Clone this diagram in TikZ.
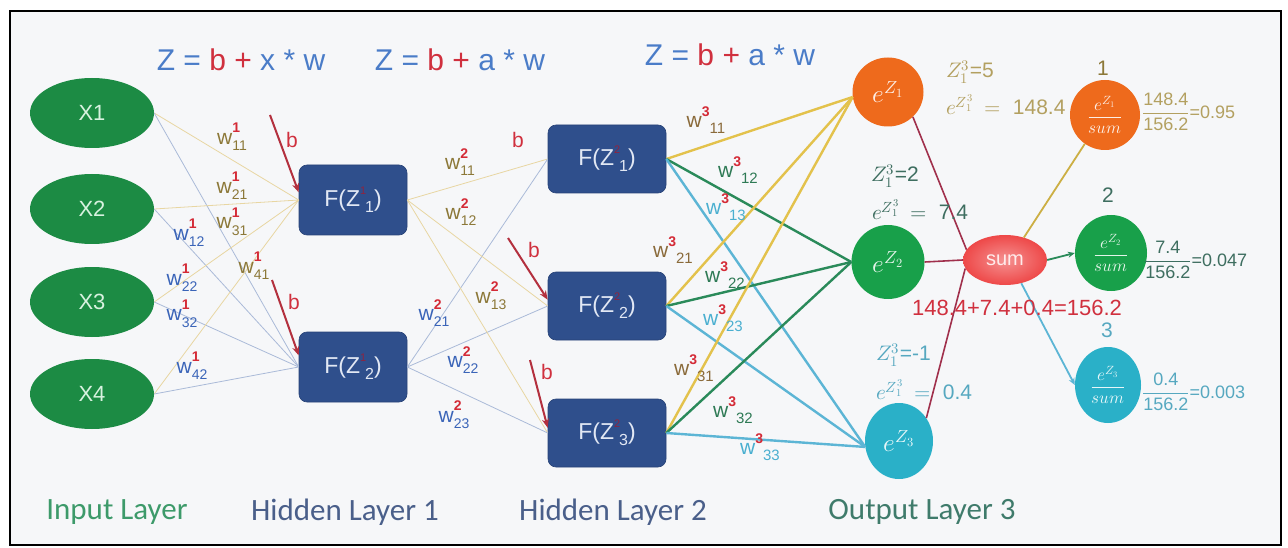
\documentclass[tikz,border=0pt]{standalone}
\usepackage{fontspec}
\usepackage{unicode-math}
\setmainfont{Liberation Sans}
\newfontfamily\carl{Carlito}
\usetikzlibrary{shapes.geometric,arrows.meta}
\definecolor{bgc}{HTML}{F6F7F9}
\definecolor{ingreen}{HTML}{1C8B44}
\definecolor{intext}{HTML}{D8F2E0}
\definecolor{boxblue}{HTML}{2F4F8C}
\definecolor{boxtext}{HTML}{E2E8F4}
\definecolor{fblue}{HTML}{4A7CC8}
\definecolor{fred}{HTML}{D0303E}
\definecolor{supred}{HTML}{D42A36}
\definecolor{darkred}{HTML}{8E2440}
\definecolor{olive}{HTML}{8C7838}
\definecolor{wblue}{HTML}{3A64B8}
\definecolor{brown3}{HTML}{8A6A3A}
\definecolor{green3}{HTML}{2E7A55}
\definecolor{teal3}{HTML}{4AAFD0}
\definecolor{edgegold}{HTML}{E8D6A2}
\definecolor{edgeblue}{HTML}{AABAD8}
\definecolor{gold3}{HTML}{E3C24C}
\definecolor{lgreen3}{HTML}{2A8A5A}
\definecolor{lteal3}{HTML}{5CB5D5}
\definecolor{biasc}{HTML}{B3303E}
\definecolor{orangec}{HTML}{EE6A1C}
\definecolor{greenc}{HTML}{18A04A}
\definecolor{tealc}{HTML}{2AB0C8}
\definecolor{sumc}{HTML}{EE4848}
\definecolor{sumline}{HTML}{A0304C}
\definecolor{anngold}{HTML}{B3A060}
\definecolor{anngreen}{HTML}{3E6E60}
\definecolor{annteal}{HTML}{56A8C0}
\definecolor{layergreen}{HTML}{3D9A6A}
\definecolor{layerblue}{HTML}{4A5F8A}
\definecolor{layerout}{HTML}{3F7B6B}
\newcommand{\wlab}[3]{\textcolor{#1}{w}\rlap{\raisebox{1.0ex}{\textcolor{supred}{\fontsize{14}{14}\selectfont\bfseries #2}}}\raisebox{-0.6ex}{\textcolor{#1}{\fontsize{14}{14}\selectfont #3}}}
\newcommand{\wlabb}[3]{\textcolor{#1}{w}\raisebox{1.0ex}{\textcolor{supred}{\fontsize{14}{14}\selectfont\bfseries #2}}\raisebox{-0.5ex}{\textcolor{#1}{\fontsize{15}{15}\selectfont #3}}}
\newcommand{\fz}[2]{F(Z\rlap{\raisebox{1.0ex}{\textcolor{darkred}{\fontsize{11}{11}\selectfont #1}}}\hspace{5pt}\raisebox{-0.5ex}{\fontsize{16}{16}\selectfont #2})}
\newcommand{\fr}[3]{$\displaystyle\frac{\mbox{#1}}{\mbox{#2}}$#3}
\newcommand{\sm}[1]{$\displaystyle\frac{e^{Z_{#1}}}{sum}$}
\newcommand{\ez}[1]{$e^{Z_1^3}\;=\;\mbox{#1}$}
\begin{document}
\begin{tikzpicture}[x=1pt,y=-1pt,
  inp/.style={ellipse, fill=ingreen, minimum width=124pt, minimum height=70pt, inner sep=0pt, text=intext, font=\fontsize{22}{24}\selectfont},
  hbox/.style={rectangle, rounded corners=8pt, fill=boxblue, draw=boxblue!85!black, line width=0.6pt, minimum width=#1, minimum height=70pt, inner sep=0pt, text=boxtext, font=\fontsize{23}{26}\selectfont},
  outn/.style={ellipse, fill=#1, minimum width=71pt, minimum height=71pt, inner sep=0pt, text=white!88!#1, font=\fontsize{25}{26}\selectfont},
  formula/.style={font=\fontsize{30}{32}\selectfont, inner sep=0pt},
  wl/.style={font=\fontsize{21}{22}\selectfont, inner sep=0pt},
  blab/.style={font=\fontsize{21}{22}\selectfont, text=fred, inner sep=0pt},
  ann/.style={font=\fontsize{21}{23}\selectfont, inner sep=0pt},
  layer/.style={font=\carl\fontsize{31}{33}\selectfont, inner sep=0pt},
  e1/.style={line width=0.8pt},
  e3/.style={line width=2.4pt},
  bias/.style={line width=2pt, draw=biasc, -{Stealth[length=9pt,width=7pt]}},
  sl/.style={line width=1.6pt, draw=sumline}
]
\useasboundingbox (0,0) rectangle (1288,548);
\fill[white] (0,0) rectangle (1288,548);
\draw[line width=2.5pt, fill=bgc] (10,11) rectangle (1281,545);

% formulas
\node[formula] (f1) at (241,60) {\textcolor{fblue}{Z} \textcolor{fblue}{=} \textcolor{fred}{b} \textcolor{fred}{+} \textcolor{fblue}{x * w}};
\node[formula] (f2) at (460,60) {\textcolor{fblue}{Z} \textcolor{fblue}{=} \textcolor{fred}{b} \textcolor{fred}{+} \textcolor{fblue}{a * w}};
\node[formula] (f3) at (730,55) {\textcolor{fblue}{Z} \textcolor{fblue}{=} \textcolor{fred}{b} \textcolor{fred}{+} \textcolor{fblue}{a * w}};

% nodes
\node[inp] (X1) at (92,113) {X1};
\node[inp] (X2) at (92,209) {X2};
\node[inp] (X3) at (92,302) {X3};
\node[inp] (X4) at (92,394) {X4};
\node[hbox=108pt] (H11) at (353,200) {\fz{1}{1}};
\node[hbox=108pt] (H12) at (353,367) {\fz{1}{2}};
\node[hbox=118pt, minimum height=68pt] (H21) at (607,159) {\fz{2}{1}};
\node[hbox=118pt, minimum height=68pt] (H22) at (607,306) {\fz{2}{2}};
\node[hbox=118pt, minimum height=68pt] (H23) at (607,433) {\fz{2}{3}};
\node[outn=orangec, minimum height=69pt] (O1) at (888,92) {$e^{Z_1}$};
\node[outn=greenc, minimum width=73pt, minimum height=74pt] (O2) at (888,262) {$e^{Z_2}$};
\node[outn=tealc, minimum width=68pt, minimum height=76pt] (O3) at (899,441) {$e^{Z_3}$};
\node[ellipse, inner sep=0pt, minimum width=84pt, minimum height=50pt, shading=radial, inner color=sumc!60!white, outer color=sumc, text=white!92!red, font=\fontsize{20}{22}\selectfont] (S) at (1005,260) {sum};
\node[outn=orangec, minimum width=70pt, minimum height=70pt, font=\fontsize{17}{18}\selectfont] (P1) at (1105,115) {\sm{1}};
\node[outn=greenc, minimum width=72pt, minimum height=76pt, font=\fontsize{17}{18}\selectfont] (P2) at (1111,253) {\sm{2}};
\node[outn=tealc, minimum width=66pt, minimum height=76pt, font=\fontsize{17}{18}\selectfont] (P3) at (1108,385) {\sm{3}};

% layer 1 edges
\foreach \i in {1,2,3,4}{
  \draw[e1, edgegold] (X\i.east) -- (H11.west);
  \draw[e1, edgeblue] (X\i.east) -- (H12.west);
}
% layer 2 edges
\foreach \j in {1,2,3}{
  \draw[e1, edgegold] (H11.east) -- (H2\j.west);
  \draw[e1, edgeblue] (H12.east) -- (H2\j.west);
}
% layer 3 edges
\foreach \j in {1,2,3}{
  \draw[e3, gold3] (H2\j.east) -- (O1.188);
  \draw[e3, lgreen3] (H2\j.east) -- (O2.west);
  \draw[e3, lteal3] (H2\j.east) -- (O3.190);
}
% output to sum
\draw[sl] (O1.-45) -- (S.165);
\draw[sl] (O2.east) -- (S.west);
\draw[sl] (O3.40) -- (S.192);
% sum to softmax
\draw[line width=1.8pt, gold3!90!black] (S.50) -- (P1.235);
\draw[line width=1.8pt, lgreen3, -{Stealth[length=7pt,width=6pt]}] (S.east) -- (P2.west);
\draw[line width=1.8pt, lteal3, -{Stealth[length=7pt,width=6pt]}] (S.-55) -- (P3.west);

% bias arrows
\coordinate (b11) at (270,115);
\coordinate (b12) at (272,280);
\coordinate (b22) at (508,238);
\coordinate (b23) at (530,360);
\draw[bias] (b11) -- (H11.172);
\draw[bias] (b12) -- (H12.168);
\draw[bias] (b22) -- (H22.174);
\draw[bias] (b23) -- (H23.175);
\node[blab] (lb11) at (292,140) {b};
\node[blab] (lb12) at (294,302) {b};
\node[blab] (lb21) at (518,140) {b};
\node[blab] (lb22) at (534,250) {b};
\node[blab] (lb23) at (547,372) {b};

% layer 1 weights
\node[wl] (w111) at (232,137) {\wlab{olive}{1}{11}};
\node[wl] (w121) at (232,186) {\wlab{olive}{1}{21}};
\node[wl] (w131) at (232,222) {\wlab{olive}{1}{31}};
\node[wl] (w141) at (254,266) {\wlab{olive}{1}{41}};
\node[wl] (w112) at (189,233) {\wlab{wblue}{1}{12}};
\node[wl] (w122) at (182,278) {\wlab{wblue}{1}{22}};
\node[wl] (w132) at (182,314) {\wlab{wblue}{1}{32}};
\node[wl] (w142) at (192,366) {\wlab{wblue}{1}{42}};
% layer 2 weights
\node[wl] (w211) at (460,162) {\wlab{olive}{2}{11}};
\node[wl] (w212) at (461,212) {\wlab{olive}{2}{12}};
\node[wl] (w213) at (491,296) {\wlab{olive}{2}{13}};
\node[wl] (w221) at (434,313) {\wlab{wblue}{2}{21}};
\node[wl] (w222) at (463,360) {\wlab{wblue}{2}{22}};
\node[wl] (w223) at (454,415) {\wlab{wblue}{2}{23}};
% layer 3 weights
\node[wl] (w311) at (706,120) {\wlabb{brown3}{3}{11}};
\node[wl] (w312) at (738,170) {\wlabb{green3}{3}{12}};
\node[wl] (w313) at (726,207) {\wlabb{teal3}{3}{13}};
\node[wl] (w321) at (673,250) {\wlabb{brown3}{3}{21}};
\node[wl] (w322) at (725,275) {\wlabb{green3}{3}{22}};
\node[wl] (w323) at (723,318) {\wlabb{teal3}{3}{23}};
\node[wl] (w331) at (694,368) {\wlabb{brown3}{3}{31}};
\node[wl] (w332) at (733,410) {\wlabb{green3}{3}{32}};
\node[wl] (w333) at (760,447) {\wlabb{teal3}{3}{33}};

% annotations
\node[ann, text=anngold, anchor=west] (a1) at (946,72) {$Z_1^3$=5};
\node[ann, text=anngold, anchor=west] (a2) at (946,105) {\ez{148.4}};
\node[ann, text=anngreen, anchor=west] (a3) at (871,176) {$Z_1^3$=2};
\node[ann, text=anngreen, anchor=west] (a4) at (872,210) {\ez{7.4}};
\node[ann, text=annteal, anchor=west] (a5) at (876,355) {$Z_1^3$=-1};
\node[ann, text=annteal, anchor=west] (a6) at (876,390) {\ez{0.4}};
\node[font=\fontsize{22}{23}\selectfont, text=fred, inner sep=0pt] (sumtxt) at (1017,308) {148.4+7.4+0.4=156.2};

% softmax labels
\node[font=\fontsize{21}{22}\selectfont, text=olive, inner sep=0pt] (n1) at (1103,68) {1};
\node[font=\fontsize{21}{22}\selectfont, text=anngreen, inner sep=0pt] (n2) at (1108,195) {2};
\node[font=\fontsize{21}{22}\selectfont, text=annteal, inner sep=0pt] (n3) at (1107,330) {3};
\node[font=\fontsize{18}{19}\selectfont, text=anngold, inner sep=0pt, anchor=west] (q1) at (1142,112) {\fr{148.4}{156.2}{=0.95}};
\node[font=\fontsize{18}{19}\selectfont, text=anngreen, inner sep=0pt, anchor=west] (q2) at (1144,260) {\fr{7.4}{156.2}{=0.047}};
\node[font=\fontsize{18}{19}\selectfont, text=annteal, inner sep=0pt, anchor=west] (q3) at (1142,392) {\fr{0.4}{156.2}{=0.003}};

% layer names
\node[layer, text=layergreen] (L0) at (117,512) {Input Layer};
\node[layer, text=layerblue] (L1) at (345,512) {Hidden Layer 1};
\node[layer, text=layerblue] (L2) at (613,512) {Hidden Layer 2};
\node[layer, text=layerout] (L3) at (922,512) {Output Layer 3};
\end{tikzpicture}
\end{document}
